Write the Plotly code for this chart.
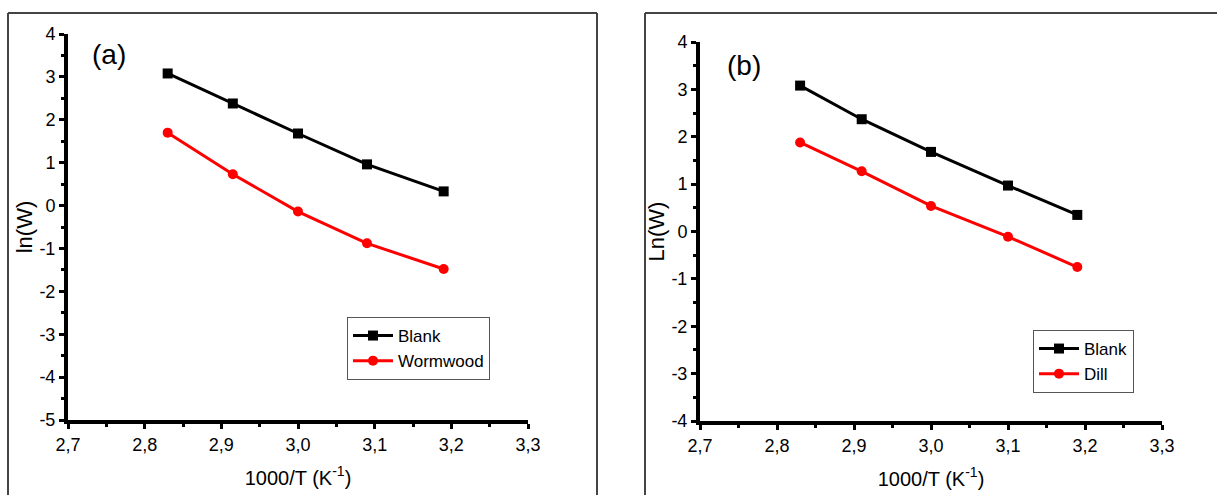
import plotly.graph_objects as go

# Data
x_a = [2.83, 2.915, 3.0, 3.09, 3.19]
blank_a = [3.08, 2.38, 1.68, 0.96, 0.33]
worm_a = [1.70, 0.73, -0.14, -0.88, -1.48]

x_b = [2.83, 2.91, 3.0, 3.10, 3.19]
blank_b = [3.08, 2.37, 1.68, 0.97, 0.35]
dill_b = [1.88, 1.27, 0.54, -0.11, -0.75]

x_ticks = [2.7, 2.8, 2.9, 3.0, 3.1, 3.2, 3.3]
x_ticktext = ["2,7", "2,8", "2,9", "3,0", "3,1", "3,2", "3,3"]
ya_ticks = [-5, -4, -3, -2, -1, 0, 1, 2, 3, 4]
yb_ticks = [-4, -3, -2, -1, 0, 1, 2, 3, 4]

W, H = 1217, 495
TICKFONT = "Liberation Sans Narrow, Liberation Sans, Arial"
FONT = "Liberation Sans, Arial"

fig = go.Figure()

def add_series(x, y, name, color, symbol, size, xa, ya, leg):
    fig.add_trace(go.Scatter(x=x, y=y, name=name, mode="lines+markers",
                             line=dict(color=color, width=3),
                             marker=dict(symbol=symbol, size=size, color=color),
                             xaxis=xa, yaxis=ya, legend=leg))

add_series(x_a, blank_a, "Blank", "black", "square", 10, "x", "y", "legend")
add_series(x_a, worm_a, "Wormwood", "red", "circle", 10, "x", "y", "legend")
add_series(x_b, blank_b, "Blank", "black", "square", 10, "x2", "y2", "legend2")
add_series(x_b, dill_b, "Dill", "red", "circle", 10, "x2", "y2", "legend2")

def px_x(p):
    return p / W

def px_y(p):
    return 1 - p / H

def xaxis_cfg(x0, x1, anchor):
    return dict(domain=[px_x(x0), px_x(x1)], range=[2.7, 3.3], anchor=anchor,
                automargin=False,
                tickvals=x_ticks, ticktext=x_ticktext,
                showline=True, linecolor="black", linewidth=4, mirror=False,
                ticks="outside", ticklen=5, tickwidth=3, tickcolor="black",
                minor=dict(ticks="outside", ticklen=3, tickwidth=2.5, dtick=0.05, tickcolor="black"),
                showgrid=False, zeroline=False,
                tickfont=dict(family=TICKFONT, size=18, color="black"),
                title=dict(text="1000/T (K<sup>-1</sup>)", standoff=18,
                           font=dict(family=FONT, size=20, color="black")))

def yaxis_cfg(y0, y1, rng, ticks, title, anchor):
    return dict(domain=[px_y(y1), px_y(y0)], range=rng, anchor=anchor,
                automargin=False,
                tickvals=ticks, ticktext=[str(t) for t in ticks],
                showline=True, linecolor="black", linewidth=4, mirror=False,
                ticks="outside", ticklen=5, tickwidth=3, tickcolor="black",
                minor=dict(ticks="outside", ticklen=3, tickwidth=2.5, dtick=0.5, tickcolor="black"),
                showgrid=False, zeroline=False,
                tickfont=dict(family=TICKFONT, size=18, color="black"),
                title=dict(text=title, standoff=2,
                           font=dict(family=FONT, size=22, color="black")))

def frame(x0, x1):
    c = dict(color="#444", width=2)
    return [
        dict(type="line", xref="paper", yref="paper", x0=px_x(x0), x1=px_x(x0),
             y0=0, y1=px_y(13), line=c),
        dict(type="line", xref="paper", yref="paper", x0=px_x(x0), x1=px_x(x1),
             y0=px_y(13), y1=px_y(13), line=c),
        dict(type="line", xref="paper", yref="paper", x0=px_x(x1), x1=px_x(x1),
             y0=0, y1=px_y(13), line=c),
    ]

legend_common = dict(xanchor="left", yanchor="top",
                     bordercolor="#555", borderwidth=1, bgcolor="white",
                     font=dict(family=FONT, size=17, color="black"),
                     itemwidth=40, tracegroupgap=0)

fig.update_layout(
    width=W, height=H,
    margin=dict(l=0, r=0, t=0, b=0),
    paper_bgcolor="white", plot_bgcolor="white",
    showlegend=True,
    xaxis=xaxis_cfg(68, 528, "y"),
    yaxis=yaxis_cfg(34, 420, [-5, 4], ya_ticks, "ln(W)", "x"),
    xaxis2=xaxis_cfg(700, 1162, "y2"),
    yaxis2=yaxis_cfg(42, 421, [-4, 4], yb_ticks, "Ln(W)", "x2"),
    legend=dict(x=px_x(347), y=px_y(317), **legend_common),
    legend2=dict(x=px_x(1033), y=px_y(330), **legend_common),
    annotations=[
        dict(text="(a)", x=px_x(90), y=px_y(54), xref="paper", yref="paper",
             xanchor="left", yanchor="middle", showarrow=False,
             font=dict(family=FONT, size=28, color="black")),
        dict(text="(b)", x=px_x(725), y=px_y(66), xref="paper", yref="paper",
             xanchor="left", yanchor="middle", showarrow=False,
             font=dict(family=FONT, size=28, color="black")),
    ],
    shapes=frame(8, 597) + frame(645, 1230),
)

fig.write_html("out.html")
